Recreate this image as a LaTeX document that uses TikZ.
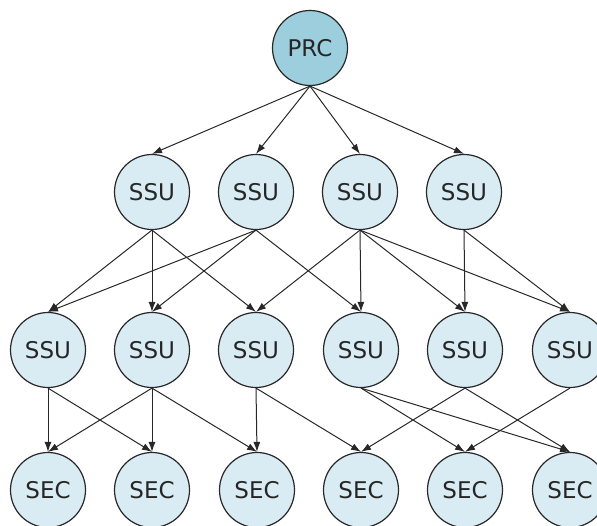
\documentclass[tikz,border=0pt]{standalone}
\usepackage{fontspec}
\setmainfont{DejaVu Sans}
\usetikzlibrary{arrows.meta}
\definecolor{prcfill}{RGB}{156,206,221}
\definecolor{unitfill}{RGB}{217,236,244}
\definecolor{edge}{RGB}{40,40,40}
\begin{document}
\begin{tikzpicture}[x=1pt,y=-1pt,
    unit/.style={circle,draw=edge,line width=1.2pt,fill=unitfill,minimum size=75pt,
        inner sep=0pt,text=black!85,font=\fontsize{23}{26}\selectfont},
    top/.style={unit,fill=prcfill},
    link/.style={draw=edge,line width=1pt,-{Latex[length=10pt,width=7pt]}}]
        \useasboundingbox (0,0) rectangle (597,525);
        \node[top] (prc) at (310,48) {PRC};
        \node[unit] (a1) at (152,192) {SSU};
        \node[unit] (a2) at (256,192) {SSU};
        \node[unit] (a3) at (360,192) {SSU};
        \node[unit] (a4) at (464,192) {SSU};
        \node[unit] (b1) at (48,350) {SSU};
        \node[unit] (b2) at (152,350) {SSU};
        \node[unit] (b3) at (256,350) {SSU};
        \node[unit] (b4) at (361,350) {SSU};
        \node[unit] (b5) at (465,350) {SSU};
        \node[unit] (b6) at (570,350) {SSU};
        \node[unit] (c1) at (48,490) {SEC};
        \node[unit] (c2) at (152,490) {SEC};
        \node[unit] (c3) at (257,490) {SEC};
        \node[unit] (c4) at (361,490) {SEC};
        \node[unit] (c5) at (465,490) {SEC};
        \node[unit] (c6) at (570,490) {SEC};
        \draw[link] (prc.south) -- (a1.north);
        \draw[link] (prc.south) -- (a2.north);
        \draw[link] (prc.south) -- (a3.north);
        \draw[link] (prc.south) -- (a4.north);
        \draw[link] (a1.south) -- (b1.north);
        \draw[link] (a1.south) -- (b2.north);
        \draw[link] (a1.south) -- (b3.north);
        \draw[link] (a2.south) -- (b1.north);
        \draw[link] (a2.south) -- (b2.north);
        \draw[link] (a2.south) -- (b4.north);
        \draw[link] (a3.south) -- (b3.north);
        \draw[link] (a3.south) -- (b4.north);
        \draw[link] (a3.south) -- (b5.north);
        \draw[link] (a3.south) -- (b6.north);
        \draw[link] (a4.south) -- (b5.north);
        \draw[link] (a4.south) -- (b6.north);
        \draw[link] (b1.south) -- (c1.north);
        \draw[link] (b1.south) -- (c2.north);
        \draw[link] (b2.south) -- (c1.north);
        \draw[link] (b2.south) -- (c2.north);
        \draw[link] (b2.south) -- (c3.north);
        \draw[link] (b3.south) -- (c3.north);
        \draw[link] (b3.south) -- (c4.north);
        \draw[link] (b4.south) -- (c5.north);
        \draw[link] (b4.south) -- (c6.north);
        \draw[link] (b5.south) -- (c4.north);
        \draw[link] (b5.south) -- (c6.north);
        \draw[link] (b6.south) -- (c5.north);
    \end{tikzpicture}
\end{document}
